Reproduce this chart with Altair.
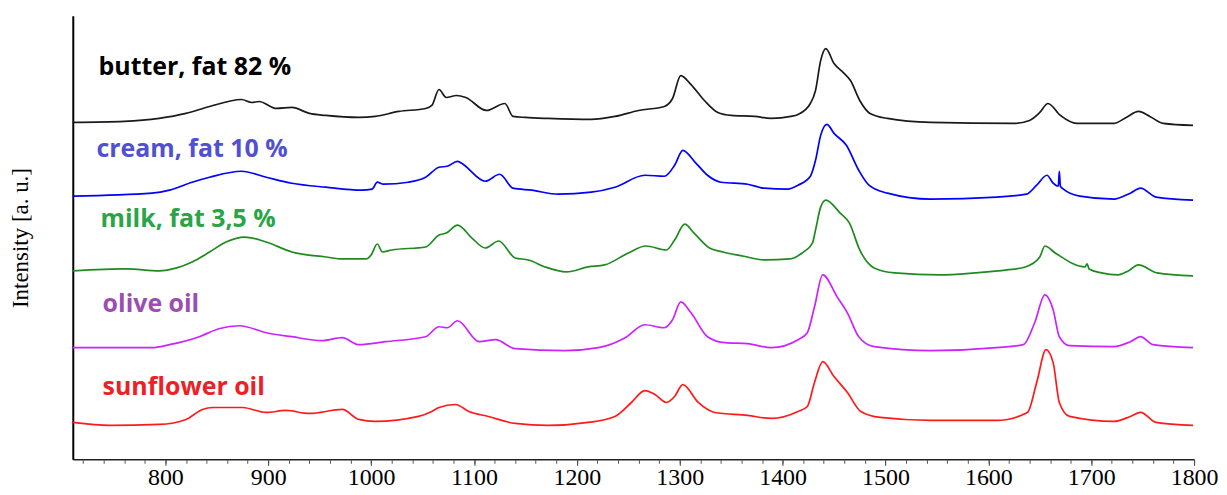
import altair as alt
import pandas as pd

# Raman spectra (wavenumber in cm^-1, intensity in arbitrary units, vertically offset)
butter_w = [710, 760, 794, 820, 843, 874, 884, 891, 908, 923, 940, 956, 988, 1004, 1027, 1053, 1059, 1066, 1073, 1083, 1092, 1112, 1130, 1138, 1150, 1172, 1214, 1237, 1260, 1285, 1293, 1301, 1311, 1324, 1337, 1350, 1373, 1389, 1408, 1415, 1427, 1432, 1437, 1442, 1450, 1459, 1466, 1475, 1485, 1502, 1544, 1625, 1640, 1650, 1658, 1670, 1686, 1722, 1734, 1746, 1757, 1770, 1799]
butter_i = [338, 339, 342, 347, 354, 361, 358, 359, 352, 353, 347, 345, 343, 344, 349, 352, 355, 371, 363, 365, 363, 350, 357, 344, 343, 342, 341, 344, 350, 354, 362, 385, 376, 360, 348, 345, 344, 342, 344, 346, 357, 370, 400, 412, 397, 388, 380, 360, 347, 342, 338, 337, 340, 348, 357, 345, 337, 337, 343, 349, 344, 337, 335]

cream_w = [710, 787, 804, 826, 843, 874, 898, 923, 956, 991, 1001, 1006, 1012, 1036, 1053, 1066, 1074, 1084, 1088, 1111, 1125, 1138, 1156, 1182, 1214, 1237, 1266, 1285, 1295, 1303, 1315, 1327, 1340, 1366, 1382, 1405, 1415, 1427, 1432, 1437, 1443, 1450, 1462, 1474, 1484, 1502, 1544, 1608, 1637, 1647, 1657, 1663, 1668, 1669, 1670, 1673, 1689, 1722, 1738, 1748, 1763, 1799]
cream_i = [264, 267, 270, 278, 283, 289, 283, 277, 273, 270, 271, 278, 276, 278, 283, 293, 294, 299, 297, 279, 286, 272, 270, 266, 268, 273, 285, 284, 295, 310, 298, 285, 278, 276, 272, 271, 275, 284, 300, 325, 336, 327, 315, 290, 275, 267, 261, 263, 266, 275, 285, 277, 274, 289, 274, 271, 264, 261, 267, 272, 263, 260]

milk_w = [710, 762, 794, 811, 826, 843, 859, 877, 898, 923, 956, 972, 995, 1000, 1006, 1011, 1020, 1053, 1066, 1073, 1084, 1098, 1111, 1124, 1140, 1153, 1169, 1190, 1211, 1227, 1250, 1267, 1287, 1295, 1305, 1313, 1329, 1342, 1361, 1383, 1407, 1419, 1429, 1432, 1437, 1442, 1456, 1465, 1475, 1489, 1509, 1553, 1587, 1618, 1636, 1650, 1655, 1665, 1694, 1696, 1698, 1710, 1726, 1736, 1746, 1764, 1799]
milk_i = [189, 191, 189, 192, 198, 208, 218, 223, 218, 208, 203, 201, 201, 205, 216, 208, 210, 213, 225, 227, 235, 222, 212, 219, 202, 200, 193, 188, 193, 195, 207, 214, 210, 220, 236, 228, 212, 208, 204, 200, 201, 207, 217, 230, 253, 260, 247, 237, 210, 192, 187, 185, 187, 190, 193, 203, 214, 207, 193, 196, 191, 187, 185, 189, 195, 187, 184]

olive_w = [710, 787, 804, 833, 852, 872, 898, 923, 952, 972, 988, 1014, 1053, 1066, 1074, 1084, 1105, 1121, 1140, 1188, 1221, 1247, 1266, 1285, 1293, 1301, 1311, 1327, 1344, 1366, 1389, 1415, 1424, 1431, 1439, 1453, 1463, 1474, 1489, 1544, 1608, 1634, 1645, 1655, 1663, 1669, 1679, 1722, 1738, 1748, 1760, 1799]
olive_i = [112, 112, 115, 123, 131, 134, 127, 123, 119, 122, 115, 118, 123, 133, 132, 139, 118, 120, 111, 109, 112, 122, 135, 132, 140, 158, 147, 123, 117, 116, 112, 120, 127, 153, 185, 163, 147, 123, 113, 109, 112, 115, 137, 165, 150, 123, 114, 113, 118, 123, 115, 112]

sunflower_w = [710, 746, 794, 820, 836, 846, 875, 898, 917, 940, 972, 988, 1004, 1046, 1059, 1066, 1082, 1095, 1114, 1140, 1172, 1211, 1237, 1253, 1266, 1276, 1287, 1295, 1303, 1318, 1334, 1366, 1389, 1415, 1424, 1431, 1439, 1450, 1463, 1476, 1495, 1544, 1608, 1638, 1647, 1656, 1663, 1669, 1679, 1722, 1738, 1748, 1763, 1799]
sunflower_i = [37, 34, 35, 40, 50, 52, 52, 47, 49, 46, 50, 40, 38, 43, 48, 52, 55, 48, 43, 36, 34, 37, 43, 57, 69, 65, 57, 63, 75, 57, 47, 44, 41, 48, 53, 77, 98, 83, 67, 48, 42, 39, 39, 47, 77, 110, 97, 57, 43, 38, 43, 47, 37, 34]

series = ["butter, fat 82 %", "cream, fat 10 %", "milk, fat 3,5 %", "olive oil", "sunflower oil"]
line_colors = ["#1a1a1a", "#0000ff", "#1f8a1f", "#cc22ff", "#ff1a1a"]
label_colors = ["#000000", "#5050d0", "#2aa445", "#9c4db2", "#ee2025"]

# label anchor (wavenumber, intensity)
label_w = [735, 733, 737, 739, 739]
label_i = [386, 303, 233, 148, 65]

x_major = list(range(800, 1801, 100))
x_minor = list(range(720, 1801, 20))

rows = []
for name, ws, iv in zip(series, [butter_w, cream_w, milk_w, olive_w, sunflower_w],
                        [butter_i, cream_i, milk_i, olive_i, sunflower_i]):
    for w, v in zip(ws, iv):
        rows.append({"sample": name, "wavenumber": w, "intensity": v})
df = pd.DataFrame(rows)

lab = pd.DataFrame({"sample": series, "wavenumber": label_w, "intensity": label_i,
                    "lc": label_colors})

SERIF = "Liberation Serif"
xscale = alt.Scale(domain=[710, 1800], nice=False, zero=False)
yscale = alt.Scale(domain=[0, 445], nice=False, zero=False)
yaxis = alt.Axis(orient="left", title="Intensity [a. u.]", ticks=False, labels=False, grid=False,
                 titleFont=SERIF, titleFontSize=23, titleFontWeight="normal",
                 titleColor="#000", titlePadding=40, domainColor="#000", domainWidth=2)

lines = alt.Chart(df).mark_line(strokeWidth=1.7, interpolate="monotone").encode(
    x=alt.X("wavenumber:Q", scale=xscale,
            axis=alt.Axis(orient="bottom", values=x_major, title=None, format="d", grid=False,
                          labelFont=SERIF, labelFontSize=24, labelColor="#000",
                          labelPadding=0, tickSize=6, tickColor="#333", tickWidth=1,
                          domainColor="#222", domainWidth=1.5, labelFlush=False)),
    y=alt.Y("intensity:Q", scale=yscale, axis=yaxis),
    color=alt.Color("sample:N", scale=alt.Scale(domain=series, range=line_colors), legend=None),
    detail="sample:N",
)

labels = alt.Chart(lab).mark_text(align="left", baseline="alphabetic", font="Open Sans",
                                  fontWeight="bold", fontSize=25).encode(
    x=alt.X("wavenumber:Q", scale=xscale,
            axis=alt.Axis(orient="bottom", values=x_minor, labels=False, title=None, domain=False,
                          grid=False, tickSize=4, tickColor="#555", tickWidth=1)),
    y=alt.Y("intensity:Q", scale=yscale, axis=yaxis),
    text="sample:N",
    color=alt.Color("lc:N", scale=None),
)

chart = alt.layer(lines, labels).resolve_axis(x="independent").properties(
    width=1125, height=445,
    background="white",
    view=alt.ViewBackground(stroke="transparent", strokeWidth=0),
    autosize=alt.AutoSizeParams(type="none"),
    padding={"left": 65, "top": 7, "right": 25, "bottom": 30},
).configure_view(stroke="transparent", strokeWidth=0).configure_axis(
    labelFont=SERIF, titleFont=SERIF)

chart.save("out.html", embed_options={"renderer": "svg", "actions": False})
